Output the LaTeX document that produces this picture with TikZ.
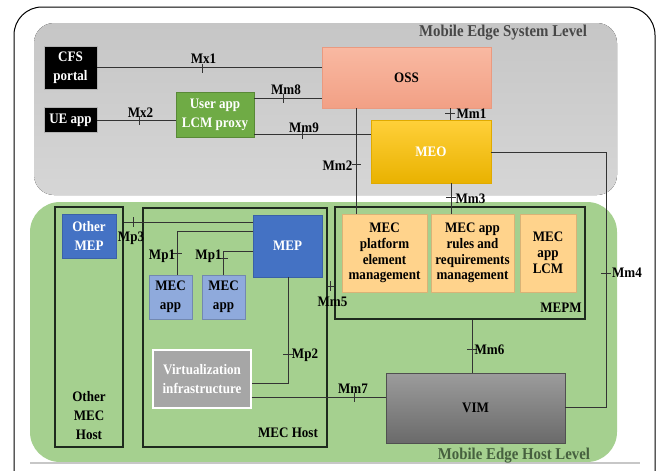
\documentclass[tikz,border=0pt]{standalone}
\usepackage{fontspec}
\setmainfont{Liberation Serif}[FakeStretch=0.9]
\definecolor{linec}{HTML}{333333}
\definecolor{hostline}{HTML}{1E2A1E}
\definecolor{sysgraytop}{HTML}{C6C6C6}
\definecolor{sysgraybot}{HTML}{D6D6D6}
\definecolor{hostgreen}{HTML}{A5D08F}
\definecolor{hosttext}{HTML}{46603F}
\definecolor{proxygreen}{HTML}{6FAB45}
\definecolor{osstop}{HTML}{F9B9A2}
\definecolor{ossbot}{HTML}{F2A085}
\definecolor{ossline}{HTML}{EA9A80}
\definecolor{meotop}{HTML}{FFD03A}
\definecolor{meobot}{HTML}{E9B200}
\definecolor{meoline}{HTML}{E0AA00}
\definecolor{mepblue}{HTML}{4472C4}
\definecolor{appblue}{HTML}{8FAADC}
\definecolor{mgmtorange}{HTML}{FFD38C}
\definecolor{virtgray}{HTML}{A6A6A6}
\definecolor{vimtop}{HTML}{9C9C9C}
\definecolor{vimbot}{HTML}{6A6A6A}
\definecolor{vimline}{HTML}{505050}
\begin{document}
\begin{tikzpicture}[x=1pt,y=-1pt,
  every node/.style={font=\fontsize{14.5}{19}\selectfont\bfseries, align=center, inner sep=0pt},
  blk/.style={fill=black, draw=black!30, line width=0.6pt, text=white},
  proxybox/.style={fill=proxygreen, draw=proxygreen!80!black, line width=0.4pt, text=white},
  ossbox/.style={top color=osstop, bottom color=ossbot, draw=ossline, line width=0.4pt},
  meobox/.style={top color=meotop, bottom color=meobot, draw=meoline, line width=0.4pt, text=white},
  mepbox/.style={fill=mepblue, draw=mepblue!85!black, line width=0.4pt, text=white},
  appbox/.style={fill=appblue, draw=appblue!80!black, line width=0.4pt},
  virtbox/.style={fill=virtgray, draw=white, line width=1.2pt, text=white},
  mgmtbox/.style={fill=mgmtorange, draw=mgmtorange!85!black, line width=0.3pt,
    font=\fontsize{14.5}{15.8}\selectfont\bfseries},
  vimbox/.style={top color=vimtop, bottom color=vimbot, draw=vimline, line width=0.6pt},
  hostbox/.style={draw=hostline, line width=1.1pt},
  conn/.style={draw=linec, line width=0.7pt},
  tk/.style={draw=linec, line width=0.7pt},
  lvl/.style={font=\fontsize{16.5}{19}\selectfont\bfseries}
]
\useasboundingbox (0,0) rectangle (659,471);
\fill[white] (0,0) rectangle (659,471);

% level panels
\fill[rounded corners=20pt, top color=sysgraytop, bottom color=sysgraybot] (34,23) rectangle (617,195);
\fill[rounded corners=30pt, hostgreen] (30,202) rectangle (617,462);
\draw[black!22, line width=1.3pt] (30,463) -- (640,463);

% outer frame
\draw[black, line width=1pt, rounded corners=28pt] (14,472) -- (14,7) -- (655,7) -- (655,472);

\node[lvl, text=black!72] (syslvl) at (503,33) {Mobile Edge System Level};
\node[lvl, text=hosttext] (hostlvl) at (514,456) {Mobile Edge Host Level};

% system level entities
\node[blk, minimum width=53pt, minimum height=43pt] (cfs) at (70.5,67.5) {CFS\\portal};
\node[blk, minimum width=53pt, minimum height=25pt] (ue) at (70.5,120) {UE app};
\node[proxybox, minimum width=78pt, minimum height=45pt] (proxy) at (215,114.5) {User app\\LCM proxy};
\node[ossbox, minimum width=169pt, minimum height=61pt] (oss) at (406.5,77.5) {OSS};
\node[meobox, minimum width=120pt, minimum height=63pt] (meo) at (431,151.5) {MEO};

% host level entities
\node[hostbox, minimum width=68pt, minimum height=240pt] (otherhost) at (89,327) {};
\node (otherhostlbl) at (89,415.5) {Other\\MEC\\Host};
\node[mepbox, minimum width=54pt, minimum height=44pt] (othermep) at (89,236) {Other\\MEP};
\node[hostbox, minimum width=184pt, minimum height=239pt] (mechost) at (235,327.5) {};
\node (mechostlbl) at (288,433) {MEC Host};
\node[mepbox, minimum width=69pt, minimum height=62pt] (mep) at (287.5,246) {MEP};
\node[appbox, minimum width=43pt, minimum height=44pt] (app1) at (170.5,297) {MEC\\app};
\node[appbox, minimum width=43pt, minimum height=44pt] (app2) at (223.5,297) {MEC\\app};
\node[virtbox, minimum width=98pt, minimum height=58pt] (virt) at (202,379) {Virtualization\\infrastructure};
\node[hostbox, minimum width=250pt, minimum height=112pt] (mepm) at (460,263) {};
\node (mepmlbl) at (561,308) {MEPM};
\node[mgmtbox, minimum width=85pt, minimum height=78pt] (pem) at (384.5,253) {MEC\\platform\\element\\management};
\node[mgmtbox, minimum width=83pt, minimum height=78pt] (rules) at (472.5,253) {MEC app\\rules and\\requirements\\management};
\node[mgmtbox, minimum width=56pt, minimum height=78pt] (lcm) at (548,253) {MEC\\app\\LCM};
\node[vimbox, minimum width=179pt, minimum height=70pt] (vim) at (475.5,408) {VIM};

% reference points
\draw[conn] (cfs.east) -- (oss.west |- cfs.east);
\draw[conn] (ue.east) -- (proxy.west |- ue.east);
\draw[conn] (proxy.east |- 0,98) -- (oss.west |- 0,98);
\draw[conn] (proxy.east |- 0,134) -- (meo.west |- 0,134);
\draw[conn] (oss.south -| 356,0) -- (pem.north -| 356,0);
\draw[conn] (oss.south -| 450,0) -- (meo.north -| 450,0);
\draw[conn] (meo.south -| 451,0) -- (rules.north -| 451,0);
\draw[conn] (meo.east |- 0,152) -- (606,152) -- (606,407) -- (vim.east |- 0,407);
\draw[conn] (otherhost.east |- 0,222) -- (mep.west |- 0,222);
\draw[conn] (app1.north -| 177,0) -- (177,231) -- (mep.west |- 0,231);
\draw[conn] (app2.north -| 223,0) -- (223,251) -- (mep.west |- 0,251);
\draw[conn] (mep.south -| 288,0) -- (288,383) -- (virt.east |- 0,383);
\draw[conn] (virt.east |- 0,397) -- (vim.west |- 0,397);
\draw[conn] (mechost.east |- 0,286) -- (mepm.west |- 0,286);
\draw[conn] (mepm.south -| 472,0) -- (vim.north -| 472,0);

% tick marks
\draw[tk] (202,64) -- (202,73);
\draw[tk] (139,116) -- (139,125);
\draw[tk] (283,94) -- (283,103);
\draw[tk] (302,130) -- (302,139);
\draw[tk] (352,164) -- (361,164);
\draw[tk] (445,113.5) -- (455,113.5);
\draw[tk] (446,197) -- (456,197);
\draw[tk] (601,273) -- (611,273);
\draw[tk] (330,281) -- (330,291);
\draw[tk] (467,349) -- (477,349);
\draw[tk] (354,393) -- (354,402);
\draw[tk] (283,354) -- (293,354);
\draw[tk] (172,253) -- (182,253);
\draw[tk] (218,258) -- (228,258);
\draw[tk] (133,217) -- (133,227);

% reference point labels
\node (lmx1) at (203.5,59) {Mx1};
\node (lmx2) at (140.5,112.5) {Mx2};
\node (lmm8) at (286,90) {Mm8};
\node (lmm9) at (304,128) {Mm9};
\node (lmm2) at (337.5,166) {Mm2};
\node (lmm1) at (471.5,114) {Mm1};
\node (lmm3) at (470.5,199) {Mm3};
\node (lmm4) at (627,273) {Mm4};
\node (lmm5) at (332.5,302) {Mm5};
\node (lmm6) at (489.5,349.5) {Mm6};
\node (lmm7) at (353,389) {Mm7};
\node (lmp2) at (305,355) {Mp2};
\node (lmp1a) at (162,256) {Mp1};
\node (lmp1b) at (208.5,256) {Mp1};
\node (lmp3) at (131,238) {Mp3};
\end{tikzpicture}
\end{document}
